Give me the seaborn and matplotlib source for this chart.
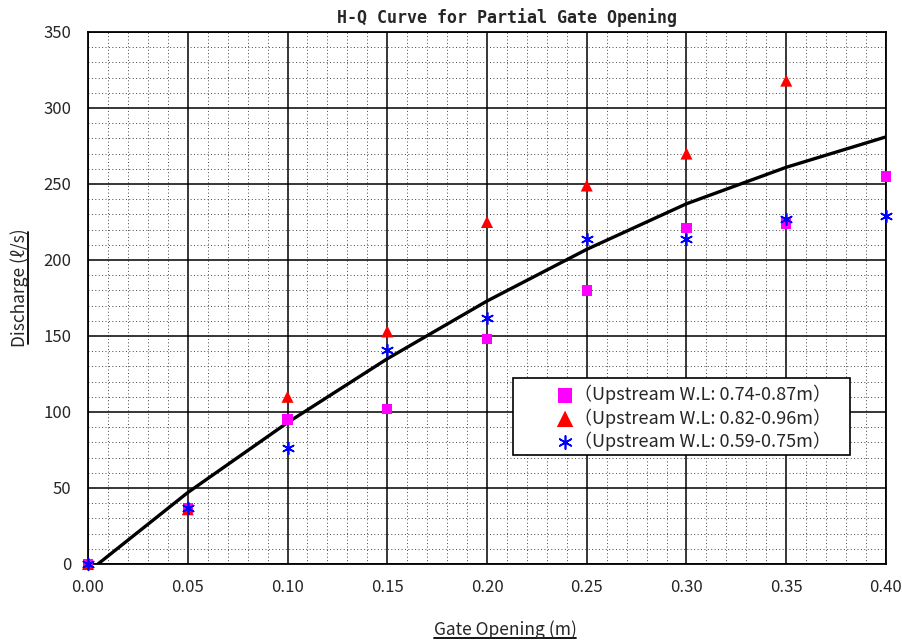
import numpy as np
import pandas as pd
import matplotlib
matplotlib.use("Agg")
import matplotlib.pyplot as plt
from matplotlib.lines import Line2D
from matplotlib.patches import Rectangle
from matplotlib.ticker import MultipleLocator
import seaborn as sns

# ---- data ----
curve_x = [0.005, 0.05, 0.10, 0.15, 0.20, 0.25, 0.30, 0.35, 0.40]
curve_q = [0, 47, 93, 135, 173, 207, 237, 261, 281]

gate_a = [0.00, 0.05, 0.10, 0.15, 0.20, 0.25, 0.30, 0.35, 0.40]
q_a = [0, 37, 95, 102, 148, 180, 221, 224, 255]

gate_b = [0.00, 0.05, 0.10, 0.15, 0.20, 0.25, 0.30, 0.35]
q_b = [0, 36, 110, 153, 225, 249, 270, 318]

gate_c = [0.00, 0.05, 0.10, 0.15, 0.20, 0.25, 0.30, 0.35, 0.40]
q_c = [0, 37, 76, 141, 162, 214, 214, 227, 229]

labels = ["（Upstream W.L: 0.74-0.87m）",
          "（Upstream W.L: 0.82-0.96m）",
          "（Upstream W.L: 0.59-0.75m）"]
xticks = [0.00, 0.05, 0.10, 0.15, 0.20, 0.25, 0.30, 0.35, 0.40]
yticks = [0, 50, 100, 150, 200, 250, 300, 350]

sns.set_style("white")
plt.rcParams['font.family'] = ['Noto Sans CJK JP', 'DejaVu Sans']

W_PX, H_PX = 902, 640
fig = plt.figure(figsize=(9.02, 6.40), dpi=100)
ax = fig.add_axes([88/W_PX, 1-564/H_PX, (886-88)/W_PX, (564-32)/H_PX])

ax.set_xlim(0, 0.40)
ax.set_ylim(0, 350)
ax.set_xticks(xticks)
ax.set_xticklabels([f"{v:.2f}" for v in xticks])
ax.set_yticks(yticks)
ax.xaxis.set_minor_locator(MultipleLocator(0.01))
ax.yaxis.set_minor_locator(MultipleLocator(10))
ax.grid(True, which='major', color='black', linewidth=1.1, linestyle='-')
ax.grid(True, which='minor', color='#444444', linewidth=0.7, linestyle=(0, (1, 2.5)))
ax.set_axisbelow(True)
ax.tick_params(which='both', length=0, labelsize=12)
ax.tick_params(axis='x', pad=11)
ax.tick_params(axis='y', pad=12)
for s in ax.spines.values():
    s.set_color('black')
    s.set_linewidth(1.3)

df_curve = pd.DataFrame({"x": curve_x, "q": curve_q})
sns.lineplot(data=df_curve, x="x", y="q", ax=ax, color='black', linewidth=2.4,
             legend=False, zorder=3)

asterisk = (6, 2, 0)
sns.scatterplot(x=gate_a, y=q_a, ax=ax, marker='s', color='#FF00FF', s=55,
                edgecolor='none', label=labels[0], zorder=4, clip_on=False)
sns.scatterplot(x=gate_b, y=q_b, ax=ax, marker='^', color='#FF0000', s=75,
                edgecolor='none', label=labels[1], zorder=4, clip_on=False)
sns.scatterplot(x=gate_c, y=q_c, ax=ax, marker=asterisk, color='#0000FF', s=70,
                linewidth=1.2, label=labels[2], zorder=5, clip_on=False)

ax.set_xlabel("")
ax.set_ylabel("")

# legend frame drawn as a rectangle, legend contents without frame
ax.add_patch(Rectangle((513/W_PX, 1-455/H_PX), 337/W_PX, 77/H_PX,
                       transform=fig.transFigure, facecolor='white',
                       edgecolor='black', linewidth=1.2, zorder=8, clip_on=False))
leg = ax.legend(loc='upper left', bbox_to_anchor=(547/W_PX, 1-385/H_PX),
                bbox_transform=fig.transFigure,
                frameon=False, fontsize=13,
                handletextpad=-0.5, borderpad=0.0, labelspacing=0.2,
                borderaxespad=0, handlelength=2.0)
leg.set_zorder(10)
for h, sz in zip(leg.legend_handles, [110, 140, 90]):
    h.set_sizes([sz])

fig.text(507/W_PX, 1-18/H_PX, "H-Q Curve for Partial Gate Opening",
         ha='center', va='center', fontsize=12, fontweight='bold',
         family=['DejaVu Sans Mono', 'DejaVu Sans'])
xl = fig.text(505/W_PX, 1-630/H_PX, "Gate Opening (m)", ha='center', va='center',
              fontsize=12.5)
yl = fig.text(20/W_PX, 1-288/H_PX, "Discharge (ℓ/s)", ha='center', va='center',
              rotation=90, fontsize=12.5)

fig.canvas.draw()
r = fig.canvas.get_renderer()
W, H = fig.bbox.width, fig.bbox.height
bb = xl.get_window_extent(r)
fig.add_artist(Line2D([bb.x0/W, bb.x1/W], [(bb.y0+1)/H]*2, color='black', linewidth=1.3,
                      transform=fig.transFigure))
bb = yl.get_window_extent(r)
fig.add_artist(Line2D([(bb.x1-1)/W]*2, [(bb.y0+3)/H, (bb.y1-3)/H], color='black', linewidth=1.3,
                      transform=fig.transFigure))

fig.savefig("out.png", dpi=100)
